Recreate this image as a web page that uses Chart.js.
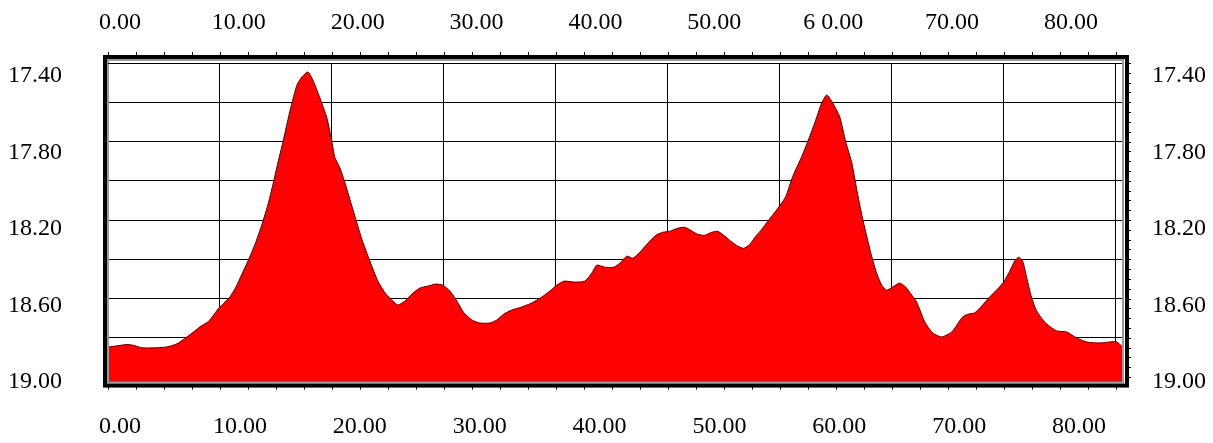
<!DOCTYPE html>
<html>
<head>
<meta charset="utf-8">
<script src="https://cdn.jsdelivr.net/npm/chart.js@4.4.1/dist/chart.umd.min.js"></script>
<style>
  html, body { margin: 0; padding: 0; background: #fff; }
  #wrap { width: 1213px; height: 443px; }
</style>
</head>
<body>
<div id="wrap"><canvas id="profile" width="1213" height="443"></canvas></div>
<script>
/* ─── Data ─────────────────────────────────────────────────────── */

// distance along the grid scale (grid line every 10)
const xValues = [
    0.09, 0.89, 1.79, 2.41, 3.04, 4.20, 5.27, 6.16, 7.05, 7.77,
    8.21, 8.93, 9.38, 9.82, 10.45, 10.89, 11.43, 11.96, 12.50, 13.13,
    13.75, 14.29, 14.73, 15.18, 15.63, 16.07, 16.43, 16.88, 17.32, 17.86,
    18.30, 18.93, 19.55, 20.00, 20.27, 20.71, 21.16, 21.61, 22.14, 22.68,
    23.39, 24.11, 24.82, 25.45, 25.89, 26.52, 27.14, 27.86, 28.57, 29.29,
    29.91, 30.54, 31.16, 31.79, 32.50, 33.21, 34.11, 34.73, 35.36, 36.07,
    36.96, 37.86, 38.75, 39.46, 40.09, 40.71, 41.70, 42.59, 43.21, 43.66,
    44.38, 45.18, 45.71, 46.34, 46.88, 47.50, 48.21, 48.93, 49.55, 50.18,
    50.89, 51.52, 52.05, 52.68, 53.30, 53.93, 54.46, 55.00, 55.63, 56.25,
    56.79, 57.32, 57.86, 58.39, 58.93, 59.55, 60.09, 60.54, 61.16, 61.96,
    62.50, 63.13, 63.75, 64.20, 64.73, 65.36, 65.89, 66.43, 66.88, 67.32,
    67.77, 68.21, 68.66, 69.11, 69.55, 70.09, 70.71, 71.25, 71.79, 72.23,
    72.95, 73.66, 74.46, 75.36, 76.34, 76.88, 77.41, 78.04, 78.75, 79.46,
    80.00, 80.54, 80.98, 81.34, 81.70, 82.05, 82.41, 82.86, 83.30, 83.84,
    84.73, 85.63, 86.52, 87.41, 88.13, 88.84, 89.46, 90.09, 90.63
];

const yValues = [
    18.818, 18.812, 18.805, 18.812, 18.823, 18.823, 18.818, 18.802, 18.766, 18.734,
    18.713, 18.687, 18.656, 18.620, 18.583, 18.557, 18.505, 18.437, 18.369, 18.281,
    18.177, 18.072, 17.968, 17.853, 17.744, 17.629, 17.541, 17.447, 17.405, 17.379,
    17.421, 17.515, 17.619, 17.744, 17.827, 17.880, 17.958, 18.046, 18.151, 18.255,
    18.369, 18.474, 18.541, 18.578, 18.599, 18.578, 18.541, 18.510, 18.500, 18.489,
    18.495, 18.526, 18.578, 18.640, 18.677, 18.693, 18.693, 18.677, 18.646, 18.625,
    18.609, 18.588, 18.557, 18.526, 18.495, 18.474, 18.479, 18.474, 18.432, 18.390,
    18.401, 18.401, 18.380, 18.343, 18.354, 18.323, 18.276, 18.234, 18.218, 18.213,
    18.197, 18.192, 18.208, 18.229, 18.234, 18.218, 18.213, 18.234, 18.265, 18.291,
    18.302, 18.281, 18.239, 18.203, 18.161, 18.114, 18.072, 18.031, 17.926, 17.822,
    17.744, 17.645, 17.541, 17.499, 17.541, 17.614, 17.744, 17.853, 17.994, 18.124,
    18.239, 18.343, 18.432, 18.495, 18.521, 18.505, 18.484, 18.505, 18.547, 18.583,
    18.687, 18.745, 18.766, 18.740, 18.661, 18.646, 18.640, 18.604, 18.557, 18.515,
    18.479, 18.422, 18.369, 18.349, 18.369, 18.453, 18.541, 18.620, 18.661, 18.698,
    18.734, 18.740, 18.771, 18.792, 18.797, 18.797, 18.792, 18.792, 18.818
];

const yTickValues = [17.40, 17.80, 18.20, 18.60, 19.00];
const yTickLabels = ['17.40', '17.80', '18.20', '18.60', '19.00'];

const xLabelValues = [0, 10, 20, 30, 40, 50, 60, 70, 80];
const xTopLabels = ['0.00', '10.00', '20.00', '30.00', '40.00', '50.00', '6 0.00', '70.00', '80.00'];
const xBottomLabels = ['0.00', '10.00', '20.00', '30.00', '40.00', '50.00', '60.00', '70.00', '80.00'];

const xGridValues = [0, 10, 20, 30, 40, 50, 60, 70, 80, 90];
const yGridValues = [1, 2, 3, 4, 5, 6, 7, 8];

/* ─── Chart ────────────────────────────────────────────────────── */

Chart.defaults.font.family = "'Liberation Serif', 'Times New Roman', serif";
Chart.defaults.font.size = 24;
Chart.defaults.color = '#000';

const Y_MIN = 17.332;
const Y_MAX = 19.005;

// thick double frame + small tick marks round the plot
const framePlugin = {
    id: 'frame',
    afterDraw(chart) {
        const { ctx, chartArea: a, scales } = chart;
        ctx.save();

        // minor ticks above / below the frame
        ctx.strokeStyle = '#000';
        ctx.lineWidth = 1;
        ctx.beginPath();
        for (let v = 0; v <= 90; v += 2.5) {
            const px = Math.round(scales.x.getPixelForValue(v)) + 0.5;
            ctx.moveTo(px, a.top - 11); ctx.lineTo(px, a.top - 8);
            ctx.moveTo(px, a.bottom + 4); ctx.lineTo(px, a.bottom + 7);
        }
        for (let v = 0; v <= 8; v += 0.25) {
            const py = Math.round(scales.yGrid.getPixelForValue(v)) + 0.5;
            ctx.moveTo(a.right + 4, py); ctx.lineTo(a.right + 7, py);
        }
        ctx.stroke();

        // gray inner band
        ctx.strokeStyle = '#9a9a9a';
        ctx.lineWidth = 2;
        ctx.strokeRect(a.left, a.top - 3, a.right - a.left - 1, a.bottom - a.top + 3);

        // black outer band
        ctx.strokeStyle = '#000';
        ctx.lineWidth = 4;
        ctx.strokeRect(a.left - 3, a.top - 6, a.right - a.left + 6, a.bottom - a.top + 9);

        // thin inner line along top
        ctx.lineWidth = 1;
        ctx.beginPath();
        ctx.moveTo(a.left, a.top + 0.5);
        ctx.lineTo(a.right - 2, a.top + 0.5);
        ctx.stroke();
        ctx.restore();
    }
};

const hiddenAxis = {
    ticks: { display: false },
    border: { display: false },
};

new Chart(document.getElementById('profile'), {
    type: 'line',
    data: {
        datasets: [{
            data: xValues.map((x, i) => ({ x: x, y: yValues[i] })),
            borderColor: '#1a1a1a',
            borderWidth: 1,
            backgroundColor: '#ff0000',
            pointRadius: 0,
            tension: 0.2,
            fill: { value: Y_MAX },
            xAxisID: 'x',
            yAxisID: 'y',
        }]
    },
    options: {
        responsive: false,
        animation: false,
        layout: { padding: 0 },
        plugins: {
            legend: { display: false },
            tooltip: { enabled: false }
        },
        scales: {
            x: {
                ...hiddenAxis,
                type: 'linear',
                position: 'bottom',
                min: 0,
                max: 90.75,
                z: 1,
                grid: { color: '#000', lineWidth: 1, drawTicks: false },
                afterBuildTicks: axis => { axis.ticks = xGridValues.map(v => ({ value: v })); },
                afterFit: axis => { axis.height = 0; }
            },
            xTop: {
                type: 'linear',
                position: 'top',
                min: -1.009,
                max: 84.46,
                grid: { display: false, drawTicks: false },
                border: { display: false },
                ticks: {
                    padding: 26,
                    maxRotation: 0,
                    callback: (v, i) => xTopLabels[i]
                },
                afterBuildTicks: axis => { axis.ticks = xLabelValues.map(v => ({ value: v })); },
                afterFit: axis => { axis.height = 63; }
            },
            xBottom: {
                type: 'linear',
                position: 'bottom',
                min: -1.001,
                max: 83.75,
                grid: { display: false, drawTicks: false },
                border: { display: false },
                ticks: {
                    padding: 30,
                    maxRotation: 0,
                    callback: (v, i) => xBottomLabels[i]
                },
                afterBuildTicks: axis => { axis.ticks = xLabelValues.map(v => ({ value: v })); },
                afterFit: axis => { axis.height = 59; }
            },
            y: {
                type: 'linear',
                position: 'left',
                reverse: true,
                min: Y_MIN,
                max: Y_MAX,
                grid: { display: false, drawTicks: false },
                border: { display: false },
                ticks: {
                    padding: 46,
                    callback: (v, i) => yTickLabels[i]
                },
                afterBuildTicks: axis => { axis.ticks = yTickValues.map(v => ({ value: v })); },
                afterFit: axis => { axis.width = 108; }
            },
            yRight: {
                type: 'linear',
                position: 'right',
                reverse: true,
                min: Y_MIN,
                max: Y_MAX,
                grid: { display: false, drawTicks: false },
                border: { display: false },
                ticks: {
                    padding: 28,
                    callback: (v, i) => yTickLabels[i]
                },
                afterBuildTicks: axis => { axis.ticks = yTickValues.map(v => ({ value: v })); },
                afterFit: axis => { axis.width = 89; }
            },
            yGrid: {
                ...hiddenAxis,
                type: 'linear',
                position: 'left',
                reverse: true,
                min: 0,
                max: 8.141,
                z: 1,
                grid: { color: '#000', lineWidth: 1, drawTicks: false },
                afterBuildTicks: axis => { axis.ticks = yGridValues.map(v => ({ value: v })); },
                afterFit: axis => { axis.width = 0; }
            }
        }
    },
    plugins: [framePlugin]
});
</script>
</body>
</html>
